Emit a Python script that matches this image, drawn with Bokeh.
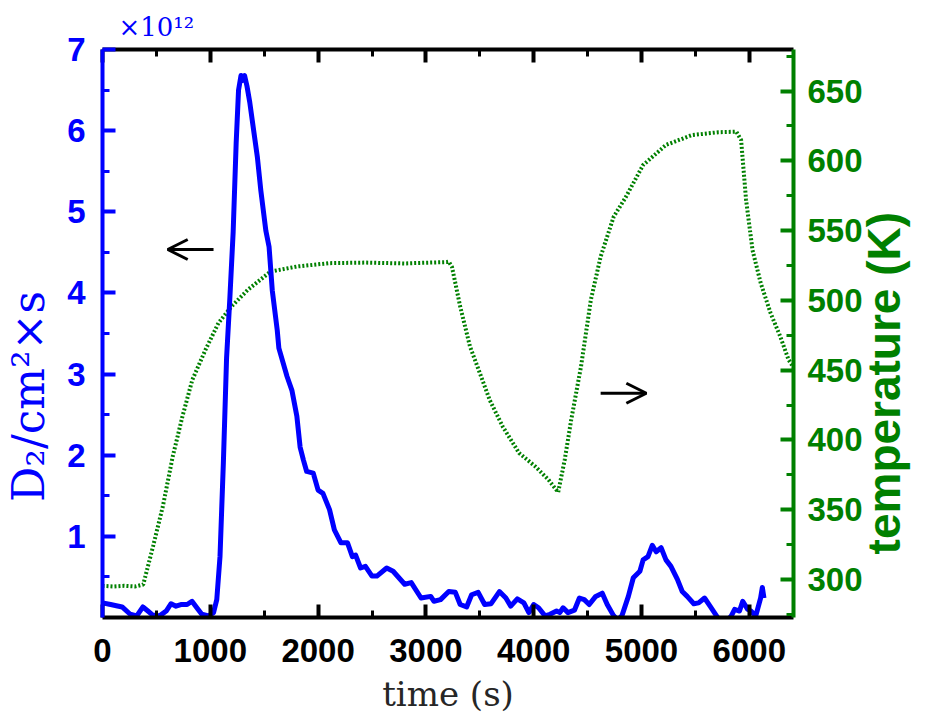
import math
from bokeh.plotting import figure
from bokeh.models import Range1d, LinearAxis, FixedTicker, Arrow, OpenHead
from bokeh.embed import file_html
from bokeh.resources import INLINE

# ---------------- data ----------------
flux_t = [0, 75, 182, 257, 318, 375, 421, 466, 530, 591, 636, 682, 727, 785, 830, 875, 921, 985,
          1030, 1060, 1090, 1121, 1151, 1182, 1212, 1240, 1262, 1285, 1300, 1318, 1340, 1366, 1394,
          1437, 1469, 1515, 1545, 1575, 1621, 1636, 1712, 1757, 1803, 1833, 1864, 1894, 1955, 2000,
          2045, 2106, 2151, 2212, 2273, 2318, 2348, 2394, 2439, 2500, 2545, 2636, 2696, 2803, 2864,
          2955, 3045, 3075, 3136, 3212, 3273, 3318, 3378, 3424, 3485, 3545, 3605, 3682, 3742, 3787,
          3848, 3909, 3955, 4000, 4045, 4105, 4151, 4212, 4242, 4273, 4318, 4378, 4424, 4469, 4515,
          4575, 4636, 4682, 4742, 4780, 4818, 4878, 4924, 4985, 5015, 5060, 5100, 5136, 5182, 5227,
          5273, 5333, 5378, 5424, 5485, 5530, 5585, 5636, 5696, 5757, 5833, 5864, 5909, 5939, 5985,
          6015, 6060, 6105, 6121, 6136]
flux_v = [0.18, 0.16, 0.13, 0.04, 0.02, 0.13, 0.08, 0.03, 0.02, 0.08, 0.17, 0.14, 0.16, 0.16, 0.20,
          0.12, 0.04, 0.02, 0.06, 0.22, 0.75, 1.9, 3.2, 3.95, 4.75, 5.85, 6.5, 6.68, 6.62, 6.68,
          6.55, 6.35, 6.08, 5.67, 5.26, 4.77, 4.57, 4.03, 3.54, 3.32, 2.97, 2.8, 2.48, 2.1, 1.94,
          1.8, 1.78, 1.57, 1.53, 1.33, 1.08, 0.92, 0.92, 0.75, 0.77, 0.61, 0.63, 0.51, 0.51, 0.61,
          0.57, 0.41, 0.43, 0.24, 0.26, 0.20, 0.22, 0.32, 0.31, 0.16, 0.13, 0.28, 0.31, 0.16, 0.17,
          0.32, 0.24, 0.14, 0.23, 0.18, 0.06, 0.16, 0.12, 0.02, 0.04, 0.08, 0.06, 0.12, 0.06, 0.09,
          0.24, 0.22, 0.16, 0.26, 0.30, 0.16, 0.02, -0.03, 0.02, 0.26, 0.49, 0.57, 0.71, 0.75, 0.89,
          0.81, 0.86, 0.71, 0.63, 0.47, 0.32, 0.26, 0.17, 0.18, 0.24, 0.14, 0.02, -0.1, 0.02, 0.10,
          0.08, 0.20, 0.10, 0.08, 0.02, 0.24, 0.37, 0.24]

temp_t = [0, 100, 200, 300, 378, 469, 560, 651, 742, 833, 955, 1075, 1196, 1348, 1560, 1803, 2106,
          2439, 2800, 3000, 3194, 3212, 3242, 3318, 3409, 3500, 3591, 3712, 3864, 4015, 4136, 4227,
          4288, 4348, 4439, 4530, 4621, 4742, 4848, 5015, 5227, 5469, 5712, 5879, 5924, 5970, 6030,
          6106, 6197, 6288, 6364, 6410]
temp_v = [295.5, 295, 295.5, 295, 296.4, 323.8, 352.5, 388, 417, 443, 464.6, 483.7, 495.6, 507.6,
          520.7, 524.3, 526.7, 527.1, 526.5, 527, 527.5, 527.8, 524, 495.6, 467, 448, 428.8, 409.7,
          390.7, 381, 371.6, 362.5, 385.9, 414.5, 452.7, 500.3, 531.4, 560, 573.2, 597, 611.4,
          618.5, 620.5, 620.9, 615, 572, 536, 512.4, 491, 474, 457.5, 452]

x_ticks = [0, 1000, 2000, 3000, 4000, 5000, 6000]
x_minor = [500, 1500, 2500, 3500, 4500, 5500]
yl_ticks = [1, 2, 3, 4, 5, 6, 7]
yl_minor = [0.5, 1.5, 2.5, 3.5, 4.5, 5.5, 6.5]
yr_ticks = [300, 350, 400, 450, 500, 550, 600, 650]
yr_minor = [275, 325, 375, 425, 475, 525, 575, 625, 675]

x_title = "time (s)"
yl_title = "D₂/cm²×s"
yr_title = "temperature (K)"
yr_title_at = 318          # temperature value where the right title starts
scale_note = "×10¹²"

arrow_left = dict(x_start=1030, y_start=4.535, x_end=605, y_end=4.535)
arrow_right = dict(x_start=4621, y_start=2.764, x_end=5045, y_end=2.764)

BLUE = "#0000FF"
GREEN = "#008000"

p = figure(width=939, height=716, output_backend="svg", toolbar_location=None,
           x_range=Range1d(0, 6410), y_range=Range1d(0, 7),
           min_border_left=100, min_border_right=141, min_border_top=49, min_border_bottom=98)
p.outline_line_color = None
p.grid.visible = False
p.background_fill_color = "white"
p.border_fill_color = "white"

p.title.text = scale_note
p.title.align = "left"
p.title.offset = 16
p.title.text_font = "DejaVu Serif"
p.title.text_font_style = "normal"
p.title.text_font_size = "26px"
p.title.text_color = BLUE
p.title.standoff = 16

p.extra_y_ranges = {"T": Range1d(272.8, 679.8)}

p.line(temp_t, temp_v, y_range_name="T", line_color=GREEN, line_width=4, line_dash="2 2")
p.line(flux_t, flux_v, line_color=BLUE, line_width=5, line_join="round")

ax_b = p.xaxis[0]
ax_l = p.yaxis[0]
ax_r = LinearAxis(y_range_name="T")
ax_t = LinearAxis()
p.add_layout(ax_r, "right")
p.add_layout(ax_t, "above")

ax_b.ticker = FixedTicker(ticks=x_ticks, minor_ticks=x_minor)
ax_t.ticker = FixedTicker(ticks=x_ticks, minor_ticks=x_minor)
ax_l.ticker = FixedTicker(ticks=yl_ticks, minor_ticks=yl_minor)
ax_r.ticker = FixedTicker(ticks=yr_ticks, minor_ticks=yr_minor)

for ax, col in [(ax_b, "black"), (ax_t, "black"), (ax_l, BLUE), (ax_r, GREEN)]:
    ax.axis_line_color = col
    ax.axis_line_width = 4
    ax.major_tick_line_color = col
    ax.minor_tick_line_color = col
    ax.major_tick_line_width = 4
    ax.minor_tick_line_width = 3
    ax.major_tick_in = 13
    ax.major_tick_out = 0
    ax.minor_tick_in = 7
    ax.minor_tick_out = 0
    ax.major_label_text_font = "Liberation Sans"
    ax.major_label_text_font_style = "bold"
    ax.major_label_text_font_size = "33px"
    ax.major_label_text_color = col

ax_b.major_label_standoff = 21
ax_l.major_label_standoff = 17
ax_r.major_label_standoff = 14

ax_t.major_label_text_color = None
ax_t.major_label_text_font_size = "4px"
ax_t.major_label_standoff = 0

ax_b.axis_label = x_title
ax_b.axis_label_text_font = "DejaVu Serif"
ax_b.axis_label_text_font_style = "normal"
ax_b.axis_label_text_font_size = "34px"
ax_b.axis_label_text_color = "#262626"
ax_b.axis_label_standoff = 9

# left title, padded at its end so that it sits a little below the axis centre
ax_l.axis_label = yl_title + "\u00a0" * 9
ax_l.axis_label_text_font = "DejaVu Serif"
ax_l.axis_label_text_font_style = "normal"
ax_l.axis_label_text_font_size = "44px"
ax_l.axis_label_text_color = BLUE
ax_l.axis_label_standoff = 10

# right title: drawn as the single label of a bare extra axis, reading upwards
ax_r2 = LinearAxis(y_range_name="T", ticker=FixedTicker(ticks=[yr_title_at], minor_ticks=[]),
                   major_label_overrides={yr_title_at: yr_title},
                   major_label_orientation=math.pi / 2)
ax_r2.axis_line_color = None
ax_r2.major_tick_line_color = None
ax_r2.minor_tick_line_color = None
ax_r2.major_tick_in = 0
ax_r2.major_tick_out = 0
ax_r2.minor_tick_in = 0
ax_r2.minor_tick_out = 0
ax_r2.major_label_standoff = 19
ax_r2.major_label_text_font = "Liberation Sans"
ax_r2.major_label_text_font_style = "bold"
ax_r2.major_label_text_font_size = "46px"
ax_r2.major_label_text_color = GREEN
p.add_layout(ax_r2, "right")

p.add_layout(Arrow(end=OpenHead(size=20, line_width=3, line_color="black"),
                   line_width=3, line_color="black", **arrow_left))
p.add_layout(Arrow(end=OpenHead(size=20, line_width=3, line_color="black"),
                   line_width=3, line_color="black", **arrow_right))

open("out.html", "w").write(file_html(p, INLINE))
